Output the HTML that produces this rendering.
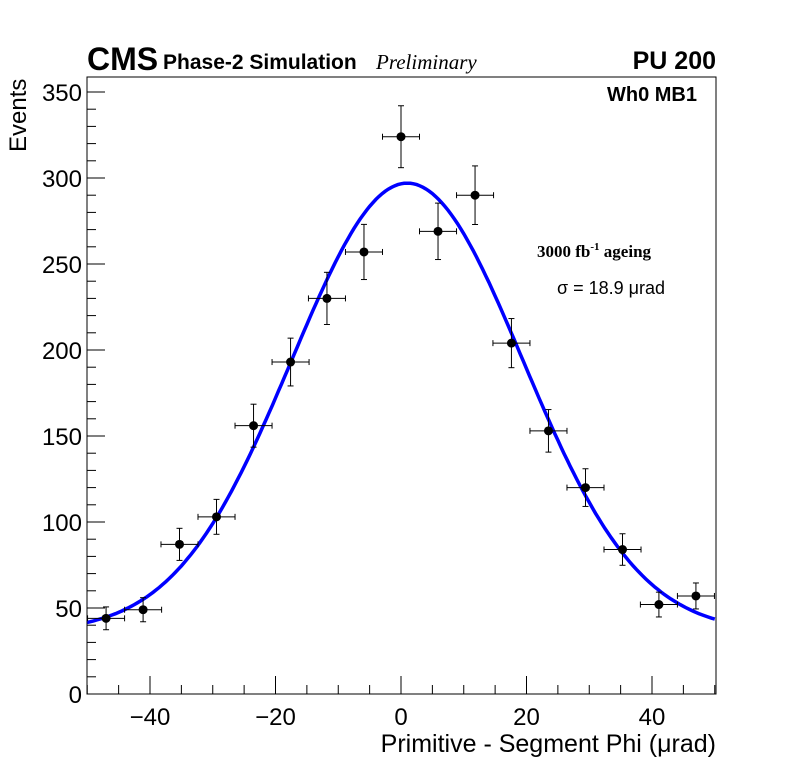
<!DOCTYPE html>
<html><head><meta charset="utf-8"><style>
body{margin:0;background:#fff;}
svg text{font-family:"Liberation Sans",sans-serif;}
</style></head><body>
<svg id="c" width="796" height="772" xmlns="http://www.w3.org/2000/svg">
<rect width="796" height="772" fill="#fff"/>
<rect x="87" y="77" width="629" height="617" fill="none" stroke="#000" stroke-width="1"/>
<g id="ticks"></g>
<g id="fit"></g>
<g id="pts"></g>
<text x="87" y="70" font-size="32" font-weight="bold">CMS</text>
<text x="163" y="69" font-size="21" font-weight="bold">Phase-2 Simulation</text>
<text x="376" y="69" font-size="21" font-style="italic" style="font-family:'Liberation Serif',serif">Preliminary</text>
<text x="716" y="69" font-size="25" font-weight="bold" text-anchor="end">PU 200</text>
<text x="697" y="101" font-size="20" font-weight="bold" text-anchor="end">Wh0 MB1</text>
<text x="537" y="257" font-size="17" font-weight="bold" style="font-family:'Liberation Serif',serif">3000 fb<tspan dy="-7" font-size="11">-1</tspan><tspan dy="7"> ageing</tspan></text>
<text x="557" y="294" font-size="18">σ = 18.9 μrad</text>
<text x="716" y="752" font-size="25" text-anchor="end">Primitive - Segment Phi (μrad)</text>
<text transform="translate(26,152) rotate(-90)" font-size="24">Events</text>
</svg>
<script>
const binCenters=[-47,-41.1,-35.3,-29.4,-23.5,-17.6,-11.8,-5.9,0,5.9,11.8,17.6,23.5,29.4,35.3,41.1,47];
const counts=[44,49,87,103,156,193,230,257,324,269,290,204,153,120,84,52,57];
const xTicks=[-40,-20,0,20,40];
const yTicks=[0,50,100,150,200,250,300,350];
const fitAmp=261, fitMean=1, fitSigma=18.4, fitConst=36;
const NS="http://www.w3.org/2000/svg";
const X=v=>401+v*6.275, Y=v=>694-v*1.72;
function mk(t,a,p){const e=document.createElementNS(NS,t);for(const k in a)e.setAttribute(k,a[k]);p.appendChild(e);return e;}
const tk=document.getElementById('ticks');
for(let v=-50;v<=50;v+=5){const l=mk('line',{x1:X(v),x2:X(v),y1:694,y2:694-(v%20===0?18:9),stroke:'#000'},tk);

}
for(let v=0;v<=350;v+=10){const l=mk('line',{x1:87,x2:87+(v%50===0?18:9),y1:Y(v),y2:Y(v),stroke:'#000'},tk);

}
xTicks.forEach(v=>{const t=mk('text',{x:X(v),y:725,'font-size':24,'text-anchor':'middle'},tk);t.textContent=(v<0?'\u2212'+(-v):v);

});
yTicks.forEach(v=>{const t=mk('text',{x:82,y:Y(v)+9,'font-size':24,'text-anchor':'end'},tk);t.textContent=v;

});
let d='';for(let v=-50;v<=50;v+=0.5){const f=fitConst+fitAmp*Math.exp(-((v-fitMean)**2)/(2*fitSigma*fitSigma));d+=(d?'L':'M')+X(v).toFixed(1)+','+Y(f).toFixed(1);}
const fp=mk('path',{d:d,fill:'none',stroke:'#0000ff','stroke-width':3.5},document.getElementById('fit'));


const pg=document.getElementById('pts');
binCenters.forEach((c,i)=>{const n=counts[i],e=Math.sqrt(n);const g=mk('g',{},pg);


const x=X(c),y=Y(n),x0=Math.max(87,X(c-2.95)),x1=Math.min(716,X(c+2.95)),y0=Y(n+e),y1=Y(n-e);
mk('line',{x1:x0,x2:x1,y1:y,y2:y,stroke:'#000'},g);
mk('line',{x1:x,x2:x,y1:y0,y2:y1,stroke:'#000'},g);
[x0,x1].forEach(xx=>mk('line',{x1:xx,x2:xx,y1:y-3,y2:y+3,stroke:'#000'},g));
[y0,y1].forEach(yy=>mk('line',{x1:x-3,x2:x+3,y1:yy,y2:yy,stroke:'#000'},g));
mk('circle',{cx:x,cy:y,r:4.5,fill:'#000'},g);});
</script>
</body></html>
